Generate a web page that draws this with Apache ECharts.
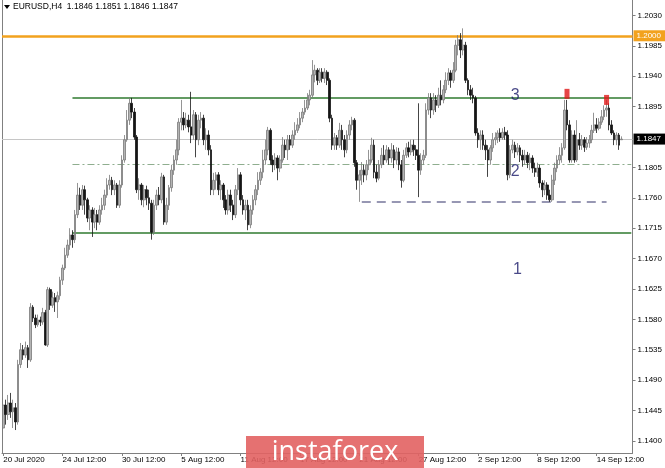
<!DOCTYPE html>
<html>
<head>
<meta charset="utf-8">
<script src="https://cdn.jsdelivr.net/npm/echarts@6/dist/echarts.min.js"></script>
<style>
html,body{margin:0;padding:0;background:#fff;}
#chart{width:665px;height:468px;}
</style>
</head>
<body>
<div id="chart"></div>
<script>
// ---- Data (EURUSD H4) ----
const symbolTitle = 'EURUSD,H4';
const opens = [
1.1419,1.1453,1.1439,1.1456,1.1443,1.1449,1.1428,1.1513,1.1535,1.1527,
1.1538,1.1520,1.1598,1.1582,1.1572,1.1579,1.1576,1.1590,1.1542,1.1624,
1.1601,1.1612,1.1606,1.1615,1.1638,1.1656,1.1675,1.1690,1.1705,1.1698,
1.1735,1.1764,1.1749,1.1772,1.1757,1.1730,1.1742,1.1724,1.1735,1.1724,
1.1742,1.1749,1.1764,1.1779,1.1786,1.1772,1.1779,1.1749,1.1779,1.1816,
1.1846,1.1875,1.1900,1.1887,1.1850,1.1772,1.1779,1.1757,1.1772,1.1760,
1.1752,1.1709,1.1749,1.1764,1.1757,1.1791,1.1724,1.1749,1.1775,1.1801,
1.1816,1.1831,1.1872,1.1878,1.1868,1.1875,1.1865,1.1853,1.1883,1.1846,
1.1875,1.1878,1.1846,1.1853,1.1831,1.1772,1.1786,1.1794,1.1772,1.1779,
1.1757,1.1742,1.1764,1.1749,1.1735,1.1772,1.1794,1.1757,1.1742,1.1749,
1.1720,1.1742,1.1757,1.1772,1.1786,1.1798,1.1816,1.1831,1.1860,1.1816,
1.1809,1.1819,1.1804,1.1816,1.1838,1.1831,1.1846,1.1838,1.1853,1.1860,
1.1868,1.1878,1.1887,1.1893,1.1905,1.1912,1.1942,1.1949,1.1934,1.1946,
1.1937,1.1946,1.1934,1.1878,1.1838,1.1849,1.1838,1.1860,1.1846,1.1831,
1.1853,1.1868,1.1875,1.1812,1.1786,1.1794,1.1801,1.1794,1.1809,1.1816,
1.1838,1.1798,1.1789,1.1809,1.1823,1.1816,1.1831,1.1819,1.1831,1.1816,
1.1828,1.1809,1.1786,1.1823,1.1834,1.1828,1.1838,1.1831,1.1823,1.1801,
1.1816,1.1823,1.1890,1.1908,1.1890,1.1905,1.1897,1.1912,1.1905,1.1920,
1.1934,1.1945,1.1934,1.1949,1.1986,1.1994,1.1979,1.1986,1.1934,1.1920,
1.1912,1.1908,1.1856,1.1846,1.1853,1.1838,1.1831,1.1816,1.1834,1.1846,
1.1849,1.1856,1.1849,1.1857,1.1853,1.1794,1.1831,1.1838,1.1828,1.1834,
1.1823,1.1816,1.1823,1.1812,1.1819,1.1804,1.1798,1.1804,1.1782,1.1772,
1.1779,1.1764,1.1757,1.1786,1.1804,1.1816,1.1823,1.1834,1.1890,1.1868,
1.1816,1.1853,1.1816,1.1846,1.1838,1.1846,1.1835,1.1841,1.1846,1.1860,
1.1868,1.1863,1.1872,1.1880,1.1890,1.1893,1.1868,1.1856,1.1846,1.1853,
1.1846];
const closes = [
1.1453,1.1439,1.1456,1.1443,1.1449,1.1428,1.1513,1.1535,1.1527,1.1538,
1.1520,1.1598,1.1582,1.1572,1.1579,1.1576,1.1590,1.1542,1.1624,1.1601,
1.1612,1.1606,1.1615,1.1638,1.1656,1.1675,1.1690,1.1705,1.1698,1.1735,
1.1764,1.1749,1.1772,1.1757,1.1730,1.1742,1.1724,1.1735,1.1724,1.1742,
1.1749,1.1764,1.1779,1.1786,1.1772,1.1779,1.1749,1.1779,1.1816,1.1846,
1.1875,1.1900,1.1887,1.1850,1.1772,1.1779,1.1757,1.1772,1.1760,1.1752,
1.1709,1.1749,1.1764,1.1757,1.1791,1.1724,1.1749,1.1775,1.1801,1.1816,
1.1831,1.1872,1.1878,1.1868,1.1875,1.1865,1.1853,1.1883,1.1846,1.1875,
1.1878,1.1846,1.1853,1.1831,1.1772,1.1786,1.1794,1.1772,1.1779,1.1757,
1.1742,1.1764,1.1749,1.1735,1.1772,1.1794,1.1757,1.1742,1.1749,1.1720,
1.1742,1.1757,1.1772,1.1786,1.1798,1.1816,1.1831,1.1860,1.1816,1.1809,
1.1819,1.1804,1.1816,1.1838,1.1831,1.1846,1.1838,1.1853,1.1860,1.1868,
1.1878,1.1887,1.1893,1.1905,1.1912,1.1942,1.1949,1.1934,1.1946,1.1937,
1.1946,1.1934,1.1878,1.1838,1.1849,1.1838,1.1860,1.1846,1.1831,1.1853,
1.1868,1.1875,1.1812,1.1786,1.1794,1.1801,1.1794,1.1809,1.1816,1.1838,
1.1798,1.1789,1.1809,1.1823,1.1816,1.1831,1.1819,1.1831,1.1816,1.1828,
1.1809,1.1786,1.1823,1.1834,1.1828,1.1838,1.1831,1.1823,1.1801,1.1816,
1.1823,1.1890,1.1908,1.1890,1.1905,1.1897,1.1912,1.1905,1.1920,1.1934,
1.1945,1.1934,1.1949,1.1986,1.1994,1.1979,1.1986,1.1934,1.1920,1.1912,
1.1908,1.1856,1.1846,1.1853,1.1838,1.1831,1.1816,1.1834,1.1846,1.1849,
1.1856,1.1849,1.1857,1.1853,1.1794,1.1831,1.1838,1.1828,1.1834,1.1823,
1.1816,1.1823,1.1812,1.1819,1.1804,1.1798,1.1804,1.1782,1.1772,1.1779,
1.1764,1.1757,1.1786,1.1804,1.1816,1.1823,1.1834,1.1890,1.1868,1.1816,
1.1853,1.1816,1.1846,1.1838,1.1846,1.1835,1.1841,1.1846,1.1860,1.1868,
1.1863,1.1872,1.1880,1.1890,1.1893,1.1868,1.1856,1.1846,1.1853,1.1838,
1.1847];
const lows = [
1.1402,1.1424,1.1431,1.1434,1.1419,1.1416,1.1424,1.1508,1.1520,1.1523,
1.1508,1.1517,1.1576,1.1567,1.1569,1.1570,1.1572,1.1541,1.1539,1.1594,
1.1597,1.1591,1.1582,1.1609,1.1631,1.1653,1.1671,1.1683,1.1686,1.1693,
1.1730,1.1742,1.1742,1.1735,1.1724,1.1712,1.1702,1.1715,1.1712,1.1720,
1.1735,1.1742,1.1760,1.1772,1.1764,1.1764,1.1745,1.1745,1.1775,1.1812,
1.1843,1.1868,1.1878,1.1846,1.1767,1.1757,1.1749,1.1746,1.1749,1.1742,
1.1698,1.1705,1.1742,1.1749,1.1752,1.1720,1.1720,1.1742,1.1769,1.1794,
1.1809,1.1823,1.1860,1.1860,1.1863,1.1857,1.1841,1.1846,1.1820,1.1838,
1.1863,1.1838,1.1831,1.1823,1.1764,1.1764,1.1772,1.1764,1.1757,1.1745,
1.1735,1.1735,1.1739,1.1727,1.1730,1.1764,1.1749,1.1735,1.1727,1.1712,
1.1715,1.1735,1.1749,1.1764,1.1779,1.1789,1.1809,1.1823,1.1809,1.1798,
1.1801,1.1786,1.1798,1.1812,1.1819,1.1816,1.1831,1.1834,1.1846,1.1856,
1.1863,1.1872,1.1883,1.1890,1.1897,1.1908,1.1931,1.1927,1.1930,1.1931,
1.1930,1.1927,1.1872,1.1831,1.1831,1.1831,1.1834,1.1831,1.1820,1.1826,
1.1846,1.1860,1.1806,1.1772,1.1754,1.1779,1.1783,1.1786,1.1801,1.1812,
1.1789,1.1783,1.1786,1.1804,1.1809,1.1812,1.1809,1.1812,1.1804,1.1809,
1.1801,1.1775,1.1783,1.1819,1.1820,1.1823,1.1822,1.1816,1.1761,1.1794,
1.1809,1.1819,1.1883,1.1878,1.1883,1.1887,1.1893,1.1897,1.1900,1.1915,
1.1927,1.1923,1.1930,1.1946,1.1971,1.1967,1.1971,1.1930,1.1912,1.1905,
1.1900,1.1852,1.1834,1.1831,1.1831,1.1816,1.1791,1.1809,1.1828,1.1838,
1.1841,1.1843,1.1846,1.1846,1.1786,1.1789,1.1826,1.1819,1.1823,1.1813,
1.1806,1.1809,1.1804,1.1801,1.1797,1.1791,1.1791,1.1775,1.1761,1.1764,
1.1757,1.1754,1.1754,1.1779,1.1798,1.1809,1.1812,1.1831,1.1860,1.1812,
1.1812,1.1812,1.1813,1.1831,1.1831,1.1828,1.1831,1.1834,1.1841,1.1856,
1.1856,1.1860,1.1868,1.1875,1.1880,1.1860,1.1853,1.1838,1.1838,1.1831,
1.1846];
const highs = [
1.1464,1.1461,1.1468,1.1471,1.1461,1.1456,1.1520,1.1545,1.1542,1.1547,
1.1542,1.1604,1.1601,1.1587,1.1587,1.1584,1.1597,1.1594,1.1628,1.1627,
1.1621,1.1619,1.1621,1.1643,1.1661,1.1686,1.1698,1.1715,1.1712,1.1742,
1.1782,1.1775,1.1779,1.1778,1.1760,1.1749,1.1746,1.1745,1.1742,1.1749,
1.1760,1.1772,1.1789,1.1794,1.1791,1.1786,1.1782,1.1786,1.1823,1.1853,
1.1890,1.1908,1.1908,1.1893,1.1853,1.1789,1.1782,1.1779,1.1778,1.1772,
1.1757,1.1757,1.1772,1.1776,1.1797,1.1794,1.1760,1.1779,1.1809,1.1823,
1.1846,1.1878,1.1905,1.1887,1.1886,1.1883,1.1917,1.1890,1.1887,1.1883,
1.1887,1.1883,1.1863,1.1860,1.1838,1.1797,1.1798,1.1798,1.1786,1.1782,
1.1764,1.1772,1.1772,1.1757,1.1779,1.1804,1.1798,1.1764,1.1757,1.1757,
1.1749,1.1764,1.1779,1.1798,1.1804,1.1831,1.1846,1.1865,1.1863,1.1823,
1.1826,1.1823,1.1823,1.1850,1.1846,1.1853,1.1853,1.1860,1.1872,1.1878,
1.1887,1.1893,1.1905,1.1915,1.1920,1.1964,1.1957,1.1952,1.1952,1.1952,
1.1952,1.1949,1.1937,1.1883,1.1856,1.1853,1.1871,1.1868,1.1853,1.1860,
1.1875,1.1880,1.1878,1.1816,1.1801,1.1813,1.1809,1.1816,1.1831,1.1849,
1.1846,1.1809,1.1816,1.1834,1.1838,1.1838,1.1835,1.1841,1.1838,1.1835,
1.1834,1.1816,1.1831,1.1841,1.1843,1.1846,1.1846,1.1838,1.1900,1.1826,
1.1831,1.1900,1.1915,1.1915,1.1915,1.1912,1.1923,1.1934,1.1927,1.1946,
1.1952,1.1949,1.1961,1.1994,1.2001,1.2004,1.2011,1.1991,1.1937,1.1927,
1.1923,1.1911,1.1863,1.1860,1.1860,1.1846,1.1838,1.1838,1.1856,1.1857,
1.1860,1.1863,1.1863,1.1865,1.1860,1.1838,1.1846,1.1843,1.1841,1.1838,
1.1831,1.1831,1.1828,1.1826,1.1823,1.1812,1.1812,1.1809,1.1786,1.1786,
1.1783,1.1772,1.1794,1.1812,1.1823,1.1835,1.1841,1.1905,1.1905,1.1875,
1.1860,1.1860,1.1875,1.1856,1.1853,1.1850,1.1850,1.1853,1.1868,1.1886,
1.1878,1.1878,1.1890,1.1897,1.1905,1.1900,1.1875,1.1860,1.1857,1.1856,
1.1851];

// x-axis tick labels (bar index -> text)
const xTickIndex = [0, 24, 48, 72, 96, 120, 144, 168, 192, 216, 240];
const xTickLabels = ['20 Jul 2020','24 Jul 12:00','30 Jul 12:00','5 Aug 12:00','11 Aug 12:00',
  '17 Aug 12:00','21 Aug 12:00','27 Aug 12:00','2 Sep 12:00','8 Sep 12:00','14 Sep 12:00'];
// y-axis tick labels
const yTicks = [1.1400,1.1445,1.1490,1.1535,1.1580,1.1625,1.1670,1.1715,1.1760,1.1805,1.1895,1.1940,1.1985,1.2030];

// horizontal levels
const levelRound = 1.2000;      // orange
const level3 = 1.1908;          // upper green
const level1 = 1.1708;          // lower green
const levelMid = 1.1810;        // dash-dot
const levelLow = 1.1754;        // dashed
const greenStartIdx = 28;
const dashedStartIdx = 145, dashedEndIdx = 244;
const lastSlotIdx = 254;
// annotations
const levelLabels = [[207, 1.1912, '3'], [207, 1.1799, '2'], [208, 1.1653, '1']];
const signalMarks = [[228, 1.1914], [244, 1.1905]];

// categories: H4 bars, weekdays only, starting 20 Jul 2020 12:00
const categories = [];
(function () {
  let t = Date.UTC(2020, 6, 20, 12);
  while (categories.length < 255) {
    const d = new Date(t);
    const wd = d.getUTCDay();
    if (wd !== 0 && wd !== 6) categories.push(d.toISOString().slice(0, 16));
    t += 4 * 3600 * 1000;
  }
})();

const candleData = opens.map((o, i) => [o, closes[i], lows[i], highs[i]]);
const n = closes.length - 1;
const lastClose = closes[n];
const FONT = 'Liberation Sans';

const chart = echarts.init(document.getElementById('chart'), null, { renderer: 'canvas' });
chart.setOption({
  animation: false,
  backgroundColor: '#ffffff',
  grid: { left: 2, right: 32, top: 0, bottom: 15, containLabel: false },
  xAxis: {
    type: 'category',
    data: categories,
    boundaryGap: true,
    axisLine: { show: true, lineStyle: { color: '#808080', width: 1 } },
    axisTick: { show: true, alignWithLabel: true, length: 3, lineStyle: { color: '#808080' },
      interval: (i) => xTickIndex.indexOf(i) >= 0 },
    axisLabel: {
      show: true, interval: (i) => xTickIndex.indexOf(i) >= 0,
      formatter: (v, i) => xTickLabels[xTickIndex.indexOf(i)] || '',
      align: 'left', fontSize: 8, color: '#000', fontFamily: FONT, margin: 3
    },
    splitLine: { show: false }
  },
  yAxis: [{
    type: 'value', position: 'right', min: 1.1382, max: 1.2053, scale: true,
    axisLine: { show: true, lineStyle: { color: '#808080', width: 1 } },
    axisTick: { show: true, length: 3, customValues: yTicks, lineStyle: { color: '#808080' } },
    axisLabel: { show: true, customValues: yTicks, formatter: (v) => v.toFixed(4),
      fontSize: 8, color: '#000', fontFamily: FONT, margin: 5 },
    splitLine: { show: false }
  }, {
    type: 'value', position: 'left', min: 1.1382, max: 1.2053,
    axisLine: { show: true, lineStyle: { color: '#808080', width: 1 } },
    axisTick: { show: false }, axisLabel: { show: false }, splitLine: { show: false }
  }],
  series: [{
    type: 'candlestick',
    data: candleData,
    barWidth: 2.2,
    itemStyle: { color: '#b4b4b4', color0: '#151515', borderColor: '#7a7a7a', borderColor0: '#151515', borderWidth: 0.8 },
    markLine: {
      silent: true, symbol: 'none', animation: false, precision: 4, z: 1,
      data: [
        { yAxis: levelRound, lineStyle: { color: '#f2a21e', width: 2.5, type: 'solid' },
          label: { show: true, position: 'end', formatter: levelRound.toFixed(4), backgroundColor: '#f2a21e',
            color: '#fff', fontSize: 8, fontFamily: FONT, padding: [2, 4, 1, 3], distance: 1 } },
        { yAxis: lastClose, lineStyle: { color: '#c6c6c6', width: 1, type: 'solid' },
          label: { show: true, position: 'end', formatter: lastClose.toFixed(4), backgroundColor: '#000',
            color: '#fff', fontSize: 8, fontFamily: FONT, padding: [2, 4, 1, 3], distance: 1 } },
        [{ coord: [greenStartIdx, level3], lineStyle: { color: '#2f7a2f', width: 1.5, type: 'solid' }, label: { show: false } },
         { coord: [lastSlotIdx, level3] }],
        [{ coord: [greenStartIdx, level1], lineStyle: { color: '#2f7a2f', width: 1.5, type: 'solid' }, label: { show: false } },
         { coord: [lastSlotIdx, level1] }],
        [{ coord: [greenStartIdx, levelMid], lineStyle: { color: '#8fae8f', width: 1, type: [7, 3, 2, 3] }, label: { show: false } },
         { coord: [lastSlotIdx, levelMid] }],
        [{ coord: [dashedStartIdx, levelLow], lineStyle: { color: '#76769a', width: 1.5, type: [9, 6] }, label: { show: false } },
         { coord: [dashedEndIdx, levelLow] }]
      ]
    }
  }, {
    type: 'scatter',
    data: signalMarks,
    symbol: 'rect', symbolSize: [5, 10],
    itemStyle: { color: '#e01818' },
    z: 5
  }, {
    type: 'scatter',
    data: levelLabels,
    symbolSize: 0,
    label: { show: true, position: 'inside', formatter: (p) => p.value[2], color: '#1c1c6a', fontSize: 16, fontFamily: FONT },
    z: 6
  }],
  graphic: [
    { type: 'polygon', shape: { points: [[4, 5], [10, 5], [7, 9]] }, style: { fill: '#000' } },
    { type: 'text', left: 13, top: 2,
      style: { text: symbolTitle + '  ' + [opens[n], highs[n], lows[n], closes[n]].map(v => v.toFixed(4)).join(' '),
        fontSize: 8.5, fontFamily: FONT, fill: '#000' } },
    { type: 'rect', z: 100, shape: { x: 246, y: 436, width: 178, height: 32 }, style: { fill: 'rgba(226,98,98,0.9)' } },
    { type: 'text', z: 101, x: 335, y: 452,
      style: { text: 'instaforex', fontSize: 27, fontFamily: 'Open Sans', fill: '#fff', align: 'center', verticalAlign: 'middle' } }
  ]
});
</script>
</body>
</html>
